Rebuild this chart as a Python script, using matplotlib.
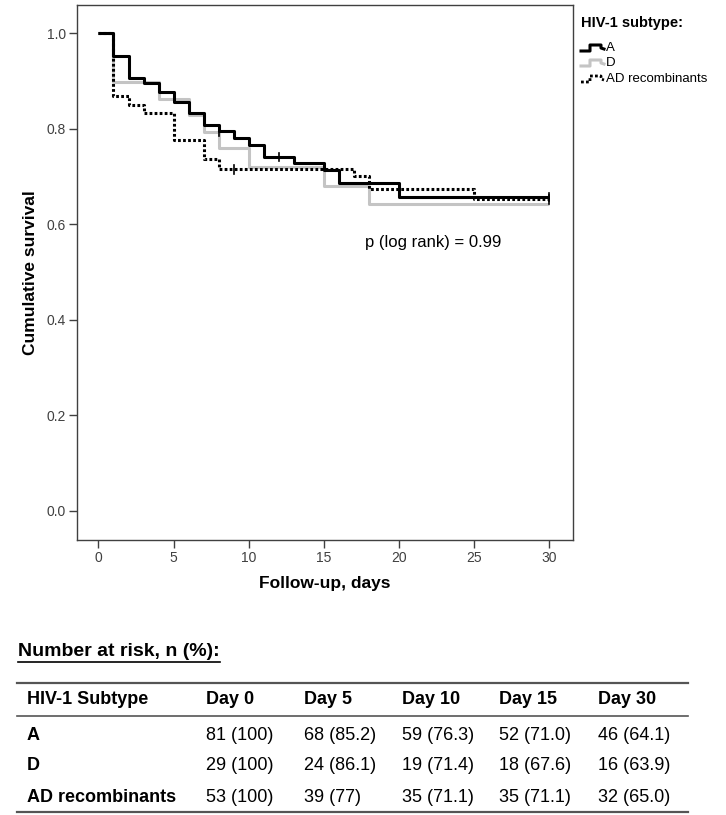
import matplotlib
matplotlib.use("Agg")
import matplotlib.pyplot as plt
from matplotlib.lines import Line2D

plt.rcParams['font.family'] = ['Liberation Sans', 'DejaVu Sans']

# ---------------- data ----------------
a_days = [0, 1, 2, 3, 4, 5, 6, 7, 8, 9, 10, 11, 13, 15, 16, 20, 30]
a_surv = [1.0, 0.951, 0.905, 0.895, 0.877, 0.856, 0.832, 0.808, 0.794, 0.780,
          0.766, 0.741, 0.729, 0.713, 0.687, 0.657, 0.657]
d_days = [0, 1, 4, 6, 7, 8, 10, 15, 18, 30]
d_surv = [1.0, 0.897, 0.862, 0.828, 0.793, 0.759, 0.720, 0.680, 0.642, 0.642]
ad_days = [0, 1, 2, 3, 5, 7, 8, 17, 18, 25, 30]
ad_surv = [1.0, 0.868, 0.849, 0.832, 0.776, 0.736, 0.715, 0.700, 0.673, 0.652, 0.652]

a_cens_days = [8, 12, 30]
a_cens_surv = [0.794, 0.741, 0.657]
ad_cens_days = [9, 30]
ad_cens_surv = [0.715, 0.652]

x_ticks = [0, 5, 10, 15, 20, 25, 30]
y_ticks = [0.0, 0.2, 0.4, 0.6, 0.8, 1.0]

legend_title = "HIV-1 subtype:"
legend_labels = ["A", "D", "AD recombinants"]
p_text = "p (log rank) = 0.99"

table_header = ["HIV-1 Subtype", "Day 0", "Day 5", "Day 10", "Day 15", "Day 30"]
table_groups = ["A", "D", "AD recombinants"]
table_values = [
    ["81 (100)", "68 (85.2)", "59 (76.3)", "52 (71.0)", "46 (64.1)"],
    ["29 (100)", "24 (86.1)", "19 (71.4)", "18 (67.6)", "16 (63.9)"],
    ["53 (100)", "39 (77)", "35 (71.1)", "35 (71.1)", "32 (65.0)"],
]

# ---------------- figure ----------------
W, H = 726, 815
fig = plt.figure(figsize=(W / 100, H / 100), dpi=100)

def fx(px):
    return px / W

def fy(py):
    return 1 - py / H

ax = fig.add_axes([fx(77), fy(540), fx(573) - fx(77), fy(5) - fy(540)])

axis_col = '#404040'
ax.step(d_days, d_surv, where='post', color='#c4c4c4', lw=2.2, solid_capstyle='butt')
ax.step(a_days, a_surv, where='post', color='black', lw=2.2, solid_capstyle='butt')
ax.step(ad_days, ad_surv, where='post', color='black', lw=2.2,
        linestyle=(0, (0.9, 0.75)))

# censor marks
for x, y in zip(a_cens_days, a_cens_surv):
    ax.plot([x, x], [y - 0.009, y + 0.009], color='black', lw=1.2)
for x, y in zip(ad_cens_days, ad_cens_surv):
    ax.plot([x, x], [y - 0.009, y + 0.009], color='black', lw=1.2)

ax.set_xlim(-1.43, 31.6)
ax.set_ylim(-0.0607, 1.0586)
ax.set_xticks(x_ticks)
ax.set_yticks(y_ticks)
ax.set_xticklabels([str(t) for t in x_ticks])
ax.set_yticklabels([f"{t:.1f}" for t in y_ticks])
ax.tick_params(direction='out', length=6, width=1.0, color=axis_col,
               labelcolor=axis_col, labelsize=10, pad=2)
for sp in ax.spines.values():
    sp.set_color(axis_col)
    sp.set_linewidth(1.0)

ax.set_xlabel("Follow-up, days", fontsize=12.5, fontweight='bold', labelpad=8)
ax.set_ylabel("Cumulative survival", fontsize=12.5, fontweight='bold', labelpad=6)

ax.text(22.3, 0.561, p_text, fontsize=12, ha='center', va='center')

# ---------------- legend ----------------
fig.text(fx(581), fy(23), legend_title, fontsize=10.5, fontweight='bold',
         ha='left', va='center')
leg_y = [48, 63, 79]
styles = [dict(color='black', lw=2.2),
          dict(color='#c4c4c4', lw=2.2),
          dict(color='black', lw=2.0, linestyle=(0, (1.0, 0.8)))]
for yy, lab, st in zip(leg_y, legend_labels, styles):
    xs = [581, 590, 590, 601, 601, 604]
    ys = [yy + 3, yy + 3, yy - 3, yy - 3, yy, yy + 1]
    fig.add_artist(Line2D([fx(v) for v in xs], [fy(v) for v in ys],
                          transform=fig.transFigure, **st))
    fig.text(fx(606), fy(yy), lab, fontsize=9.5, ha='left', va='center')

# ---------------- risk table ----------------
t = fig.text(fx(18), fy(651), "Number at risk, n (%):", fontsize=14,
             fontweight='bold', ha='left', va='center')
fig.canvas.draw()
bb = t.get_window_extent(renderer=fig.canvas.get_renderer())
fig.add_artist(Line2D([bb.x0 / W, bb.x1 / W], [fy(662), fy(662)],
                      transform=fig.transFigure, color='black', lw=1.2))

rule_col = '#555555'
fig.add_artist(Line2D([fx(17), fx(688)], [fy(683), fy(683)],
                      transform=fig.transFigure, color=rule_col, lw=1.6))
fig.add_artist(Line2D([fx(17), fx(688)], [fy(716), fy(716)],
                      transform=fig.transFigure, color=rule_col, lw=1.2))
fig.add_artist(Line2D([fx(17), fx(688)], [fy(812), fy(812)],
                      transform=fig.transFigure, color=rule_col, lw=1.6))

col_x = [27, 206, 304, 402, 499, 598]
fig.text(fx(col_x[0]), fy(700), table_header[0], fontsize=13, fontweight='bold',
         ha='left', va='center')
for cx, h in zip(col_x[1:], table_header[1:]):
    fig.text(fx(cx), fy(700), h, fontsize=13, fontweight='bold',
             ha='left', va='center')
row_y = [735, 766, 797]
for ry, g, vals in zip(row_y, table_groups, table_values):
    fig.text(fx(col_x[0]), fy(ry), g, fontsize=13, fontweight='bold',
             ha='left', va='center')
    for cx, v in zip(col_x[1:], vals):
        fig.text(fx(cx), fy(ry), v, fontsize=13, ha='left', va='center')

fig.savefig("out.png", dpi=100)
